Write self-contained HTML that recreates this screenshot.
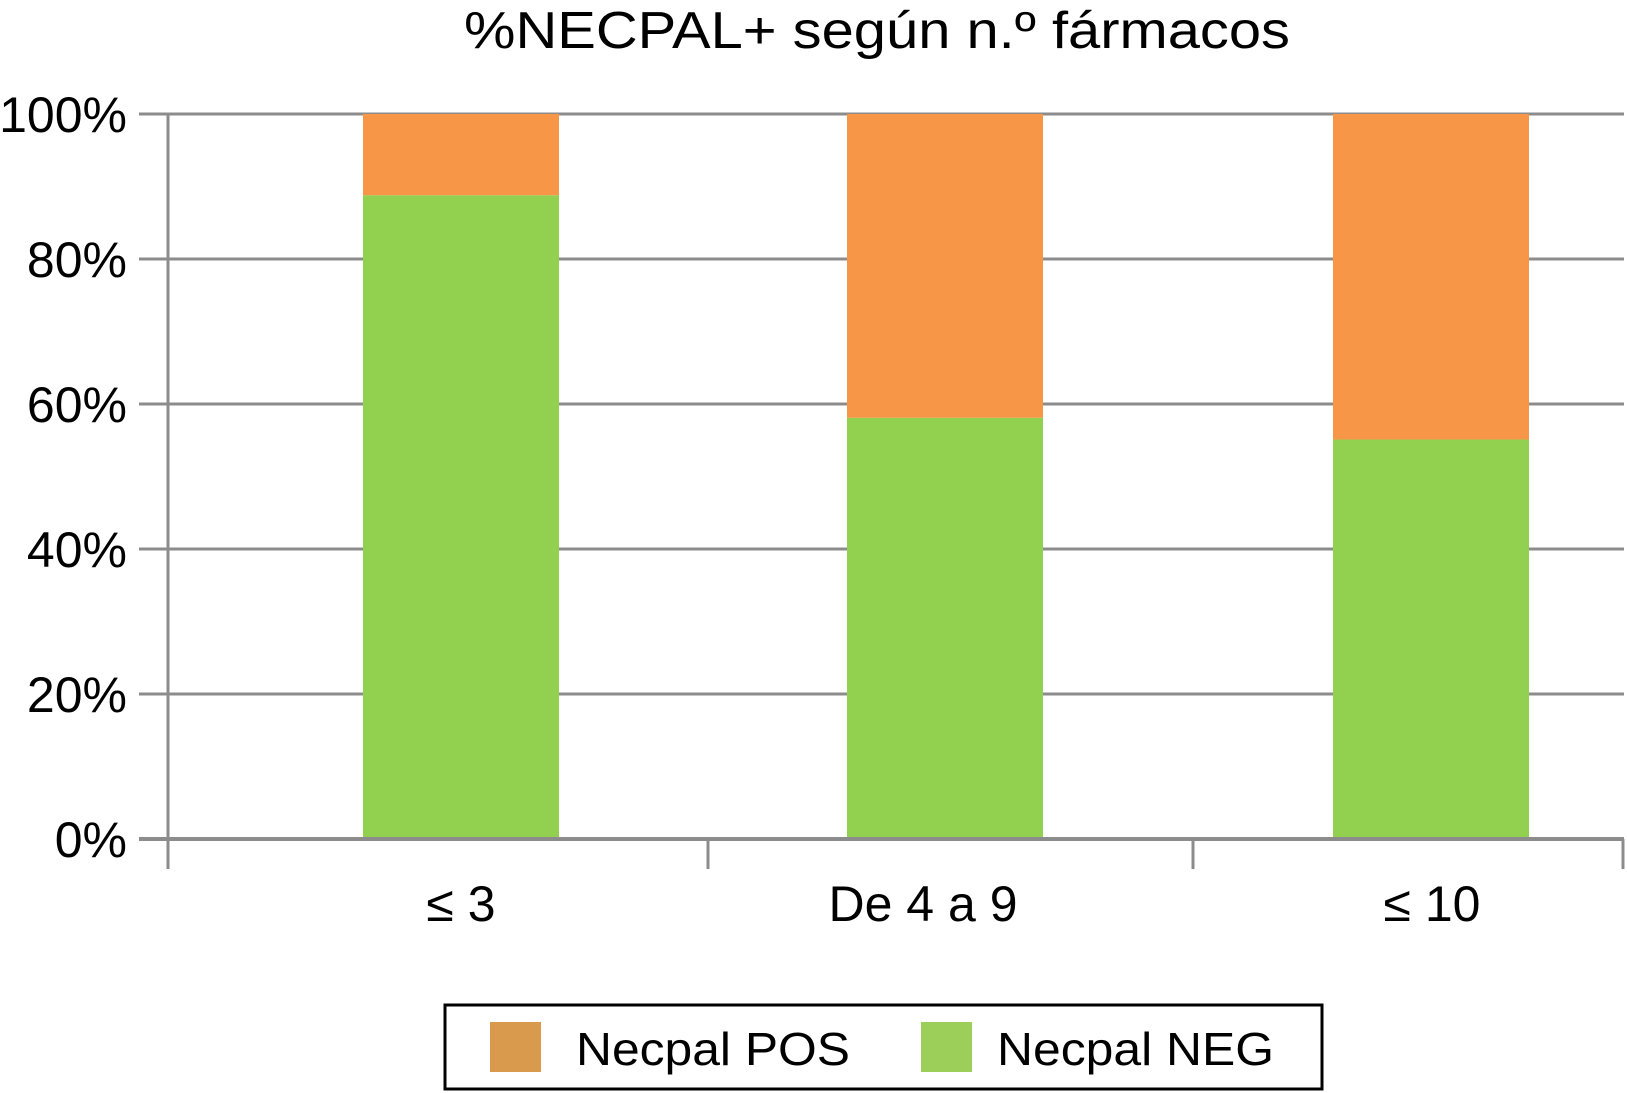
<!DOCTYPE html>
<html><head><meta charset="utf-8"><style>
html,body{margin:0;padding:0;background:#fff;}
svg{display:block;font-family:"Liberation Sans",Arial,sans-serif;}
</style></head><body>
<svg id="chart" width="1627" height="1093" viewBox="0 0 1627 1093">
<text x="877" y="48" text-anchor="middle" font-size="52" textLength="826" lengthAdjust="spacingAndGlyphs">%NECPAL+ según n.º fármacos</text>
<g id="grid"></g>
<g id="bars"></g>
<g id="axes"></g>
<g>
<rect x="445" y="1005" width="877" height="84" fill="#fff" stroke="#000" stroke-width="3"/>
<rect x="490" y="1022" width="51" height="50" fill="#d99a4e"/>
<text x="576" y="1065" font-size="46" textLength="274" lengthAdjust="spacingAndGlyphs">Necpal POS</text>
<rect x="921" y="1022" width="51" height="50" fill="#9bcf5a"/>
<text x="997" y="1065" font-size="46" textLength="277" lengthAdjust="spacingAndGlyphs">Necpal NEG</text>
</g>
</svg>
<script>
const categories = ["≤ 3", "De 4 a 9", "≤ 10"];
const negValues = [88.8, 58.1, 55.1];
const posValues = [11.2, 41.9, 44.9];
const yTicks = [0, 20, 40, 60, 80, 100];
const yTickLabels = ["0%", "20%", "40%", "60%", "80%", "100%"];

const SVGNS = "http://www.w3.org/2000/svg";
const plotL = 168, plotR = 1624, plotT = 114, plotB = 839;
const yScale = v => plotB - (v / 100) * (plotB - plotT);
const bandEdges = [168, 708, 1193, 1624];
const barCenter = i => [461, 945, 1431][i];
const labelCenter = i => [461, 923, 1432][i];
const barW = 196;
function mk(tag, attrs, parent) {
  const e = document.createElementNS(SVGNS, tag);
  for (const k in attrs) e.setAttribute(k, attrs[k]);
  parent.appendChild(e);
  return e;
}
const gridG = document.getElementById("grid");
const barsG = document.getElementById("bars");
const axesG = document.getElementById("axes");
yTicks.forEach((t, i) => {
  const l = mk("line", {x1: 139, x2: plotR, y1: yScale(t), y2: yScale(t), stroke: "#8c8c8c", "stroke-width": 3}, gridG);
  
  
  const tx = mk("text", {x: 127, y: yScale(t) + 18, "text-anchor": "end", "font-size": 50}, axesG);
  tx.textContent = yTickLabels[i];
  
  
});
categories.forEach((c, i) => {
  const cx = barCenter(i);
  const g = mk("rect", {x: cx - barW / 2, y: yScale(negValues[i]), width: barW, height: yScale(0) - yScale(negValues[i]), fill: "#92d050"}, barsG);
  
  
  const p = mk("rect", {x: cx - barW / 2, y: yScale(negValues[i] + posValues[i]), width: barW, height: yScale(negValues[i]) - yScale(negValues[i] + posValues[i]), fill: "#f79646"}, barsG);
  
  
  const tx = mk("text", {x: labelCenter(i), y: 921, "text-anchor": "middle", "font-size": 50}, axesG);
  tx.textContent = c;
  
  
});
const ya = mk("line", {x1: plotL, x2: plotL, y1: plotT, y2: 869, stroke: "#8c8c8c", "stroke-width": 3}, axesG);


const xa = mk("line", {x1: 139, x2: plotR, y1: plotB, y2: plotB, stroke: "#8c8c8c", "stroke-width": 4}, axesG);


bandEdges.slice(1).forEach(x => {
  const t = mk("line", {x1: Math.min(x, 1623), x2: Math.min(x, 1623), y1: plotB, y2: 869, stroke: "#8c8c8c", "stroke-width": 3}, axesG);
  
  
});
</script>
</body></html>
